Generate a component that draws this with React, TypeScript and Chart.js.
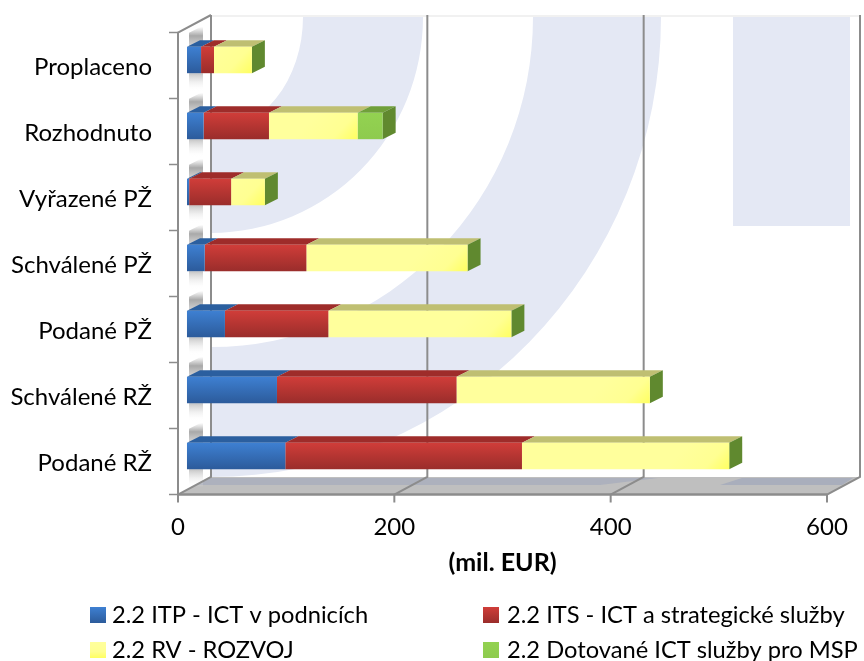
import React, { useEffect, useRef } from "react";
import { Chart, registerables } from "chart.js";

Chart.register(...registerables);

const categories = ["Proplaceno", "Rozhodnuto", "Vyřazené PŽ", "Schválené PŽ", "Podané PŽ", "Schválené RŽ", "Podané RŽ"];
const seriesNames = ["2.2 ITP - ICT v podnicích", "2.2 ITS - ICT a strategické služby", "2.2 RV - ROZVOJ", "2.2 Dotované ICT služby pro MSP"];
const itp = [13, 15.4, 2, 16.4, 35.1, 83.2, 90.9];
const its = [12, 60.4, 38.8, 94, 95.6, 166, 218.8];
const rv = [35, 82, 31.2, 149, 169.2, 178.7, 191.6];
const dotovane = [0, 23.1, 0, 0, 0, 0, 0];
const axisTicks = [0, 200, 400, 600];
const allSeries = [itp, its, rv, dotovane];

const FONT = "Lato";
const LINE = "#8c8c8c";
const WALL_DX = 33;
const WALL_DY = -17.5;
const BAR_DX = 13;
const BAR_DY = -6.5;
const BAR_HALF = 13.2;

const frontStops = [
  [[0, "#3e80d2"], [1, "#2c5b9b"]],
  [[0, "#d03d39"], [1, "#9a2d2b"]],
  [[0, "#ffff9c"], [0.6, "#ffff92"], [1, "#ffff60"]],
  [[0, "#93d251"], [1, "#8ecb4e"]],
];
const topColors = ["#2b5f9f", "#9e2c2a", "#bfbf72", "#70a03a"];
const sideColor = "#60892f";

function faceFill(c: any) {
  const chart = c.chart;
  const ds = c.datasetIndex;
  const sx = chart.scales.x;
  const sy = chart.scales.y;
  if (!chart.chartArea || !sy || c.dataIndex === undefined) return frontStops[ds][0][1];
  const cy = sy.getPixelForValue(c.dataIndex);
  let g;
  if (ds === 2) {
    const end = sx.getPixelForValue(itp[c.dataIndex] + its[c.dataIndex] + rv[c.dataIndex]);
    g = chart.ctx.createLinearGradient(end - 34, cy - BAR_HALF - 6, end, cy + BAR_HALF);
  } else {
    g = chart.ctx.createLinearGradient(0, cy - BAR_HALF, 0, cy + BAR_HALF);
  }
  frontStops[ds].forEach(([o, col]) => g.addColorStop(o as number, col as string));
  return g;
}

function poly(ctx: CanvasRenderingContext2D, pts: number[][], fill: string | CanvasGradient) {
  ctx.beginPath();
  pts.forEach((p, i) => (i ? ctx.lineTo(p[0], p[1]) : ctx.moveTo(p[0], p[1])));
  ctx.closePath();
  ctx.fillStyle = fill;
  ctx.fill();
}

const scene3d = {
  id: "scene3d",
  beforeDatasetsDraw(chart: any) {
    const ctx: CanvasRenderingContext2D = chart.ctx;
    const axis = chart.scales.x2;
    const sy = chart.scales.y;
    const x0 = axis.getPixelForValue(axisTicks[0]);
    const x1 = axis.getPixelForValue(axisTicks[axisTicks.length - 1]);
    const band = sy.getPixelForValue(1) - sy.getPixelForValue(0);
    const yTopFront = sy.getPixelForValue(0) - band / 2 + 5.5;
    const yBotFront = sy.getPixelForValue(categories.length - 1) + band / 2 + 5.5;
    const bx0 = x0 + WALL_DX;
    const bx1 = x1 + WALL_DX;
    const byTop = yTopFront + WALL_DY;
    const byBot = yBotFront + WALL_DY;

    ctx.save();
    // back wall watermark
    ctx.save();
    ctx.beginPath();
    ctx.rect(bx0, byTop + 2, bx1 - bx0 - 2, byBot - byTop - 2);
    ctx.clip();
    const wm = "#e4e8f4";
    const ring = (rxO: number, ryO: number, rxI: number, ryI: number) => {
      ctx.beginPath();
      ctx.ellipse(bx0, byTop + 2, rxO, ryO, 0, 0, Math.PI / 2);
      ctx.lineTo(bx0, byTop + 2 + ryI);
      ctx.ellipse(bx0, byTop + 2, rxI, ryI, 0, Math.PI / 2, 0, true);
      ctx.closePath();
      ctx.fillStyle = wm;
      ctx.fill();
    };
    ring(212, 216, 92, 115);
    ring(450, 460, 322, 330);
    ctx.fillStyle = wm;
    ctx.fillRect(733, byTop + 2, 117, 209);
    ctx.restore();

    // floor
    poly(ctx, [[x0, yBotFront], [x1, yBotFront], [bx1, byBot], [bx0, byBot]], "#bfbfbf");
    poly(ctx, [[bx0 - 14, byBot + 8], [600, byBot + 8], [658, byBot + 1], [bx0, byBot + 1]], "#adb1bd");
    poly(ctx, [[720, byBot + 8], [842, byBot + 8], [853, byBot + 1], [742, byBot + 1]], "#a9aebc");

    // side wall bar shadows
    categories.forEach((_, i) => {
      const cy = sy.getPixelForValue(i);
      const top = cy - BAR_HALF;
      const bot = cy + BAR_HALF;
      let g = ctx.createLinearGradient(0, top - 20, 0, top);
      g.addColorStop(0, "rgba(255,255,255,0.9)");
      g.addColorStop(0.45, "#a9a9a9");
      g.addColorStop(1, "#d8d8d8");
      poly(ctx, [[189, top], [203, top], [203, top - 21], [189, top - 14]], g);
      g = ctx.createLinearGradient(0, bot, 0, bot + 18);
      g.addColorStop(0, "#c4c4c4");
      g.addColorStop(1, "rgba(255,255,255,0)");
      poly(ctx, [[189, bot], [203, bot], [203, bot + 18], [189, bot + 18]], g);
    });

    // wall and grid lines
    ctx.strokeStyle = "#ececec";
    ctx.lineWidth = 1.5;
    ctx.beginPath();
    ctx.moveTo(bx0, byTop + 1);
    ctx.lineTo(bx1, byTop + 1);
    ctx.stroke();
    ctx.strokeStyle = LINE;
    ctx.lineWidth = 2;
    axisTicks.forEach((t) => {
      const p = axis.getPixelForValue(t);
      ctx.beginPath();
      ctx.moveTo(p + WALL_DX, byTop);
      ctx.lineTo(p + WALL_DX, byBot);
      ctx.lineTo(p, yBotFront);
      ctx.lineTo(p, yBotFront + 8);
      ctx.stroke();
    });
    ctx.beginPath();
    ctx.moveTo(bx0, byTop);
    ctx.lineTo(x0, yTopFront);
    ctx.lineTo(x0, yBotFront);
    ctx.stroke();
    ctx.lineWidth = 2.5;
    ctx.beginPath();
    ctx.moveTo(x0, yBotFront);
    ctx.lineTo(x1, yBotFront);
    ctx.stroke();
    ctx.lineWidth = 1.5;
    for (let i = 0; i <= categories.length; i++) {
      const y = yTopFront + band * i;
      ctx.beginPath();
      ctx.moveTo(x0 - 9, y);
      ctx.lineTo(x0, y);
      ctx.stroke();
    }

    // bar depth faces
    categories.forEach((_, i) => {
      let last: any = null;
      allSeries.forEach((vals, ds) => {
        if (!vals[i]) return;
        const el = chart.getDatasetMeta(ds).data[i];
        const left = el.base;
        const right = el.x;
        const top = el.y - el.height / 2;
        poly(ctx, [[left, top], [right, top], [right + BAR_DX, top + BAR_DY], [left + BAR_DX, top + BAR_DY]], topColors[ds]);
        last = el;
      });
      if (last) {
        const r = last.x;
        const t = last.y - last.height / 2;
        const b = last.y + last.height / 2;
        poly(ctx, [[r, t], [r + BAR_DX, t + BAR_DY], [r + BAR_DX, b + BAR_DY], [r, b]], sideColor);
      }
    });
    ctx.restore();
  },
  afterDraw(chart: any) {
    const ctx: CanvasRenderingContext2D = chart.ctx;
    const cols = [90, 483];
    const textGap = [22, 24];
    const rows = [615, 650];
    ctx.save();
    ctx.font = `23.7px ${FONT}`;
    ctx.textBaseline = "middle";
    ctx.fillStyle = "#000";
    chart.data.datasets.forEach((d: any, i: number) => {
      const x = cols[i % 2];
      const y = rows[i >> 1];
      const g = ctx.createLinearGradient(0, y - 8, 0, y + 8);
      frontStops[i].forEach(([o, col]) => g.addColorStop(o as number, col as string));
      ctx.fillStyle = g;
      ctx.fillRect(x, y - 8, 16, 16);
      ctx.fillStyle = "#000";
      ctx.fillText(d.label, x + textGap[i % 2], y);
    });
    ctx.restore();
  },
};

const noScalePadding = (s: any) => {
  s.paddingLeft = 0;
  s.paddingRight = 0;
  s.paddingTop = 0;
  s.paddingBottom = 0;
};

export default function App() {
  const ref = useRef<HTMLCanvasElement>(null);
  useEffect(() => {
    document.body.style.margin = "0";
    const chart = new Chart(ref.current!, {
      type: "bar",
      data: {
        labels: categories,
        datasets: allSeries.map((vals, i) => ({
          label: seriesNames[i],
          data: vals,
          xAxisID: "x",
          yAxisID: "y",
          backgroundColor: faceFill,
          borderWidth: 0,
          barPercentage: 0.4,
          categoryPercentage: 1,
        })),
      },
      options: {
        indexAxis: "y",
        animation: false,
        responsive: false,
        layout: { autoPadding: false, padding: { top: 27, right: 37, bottom: 82, left: 0 } },
        plugins: { legend: { display: false }, tooltip: { enabled: false } },
        scales: {
          x: {
            type: "linear",
            display: false,
            stacked: true,
            min: -8.3,
            max: 591.7,
          },
          x2: {
            type: "linear",
            position: "bottom",
            min: 0,
            max: 600,
            grid: { display: false, drawTicks: false },
            border: { display: false },
            afterFit: (s: any) => { s.height = 90; noScalePadding(s); },
            ticks: {
              stepSize: 200,
              maxRotation: 0,
              padding: 24,
              color: "#000",
              font: { family: FONT, size: 24 },
            },
            title: {
              display: true,
              text: "(mil. EUR)",
              color: "#000",
              font: { family: FONT, size: 25, weight: "bold" },
              padding: { top: 0, bottom: 1 },
            },
          },
          y: {
            type: "category",
            stacked: true,
            position: "left",
            grid: { display: false, drawTicks: false },
            border: { display: false },
            afterFit: (s: any) => { s.width = 178; noScalePadding(s); },
            ticks: {
              padding: 26,
              labelOffset: 7,
              autoSkip: false,
              color: "#000",
              font: { family: FONT, size: 24 },
            },
          },
        },
      },
      plugins: [scene3d],
    } as any);
    return () => chart.destroy();
  }, []);
  return <canvas ref={ref} width={864} height={661} style={{ display: "block" }} />;
}
